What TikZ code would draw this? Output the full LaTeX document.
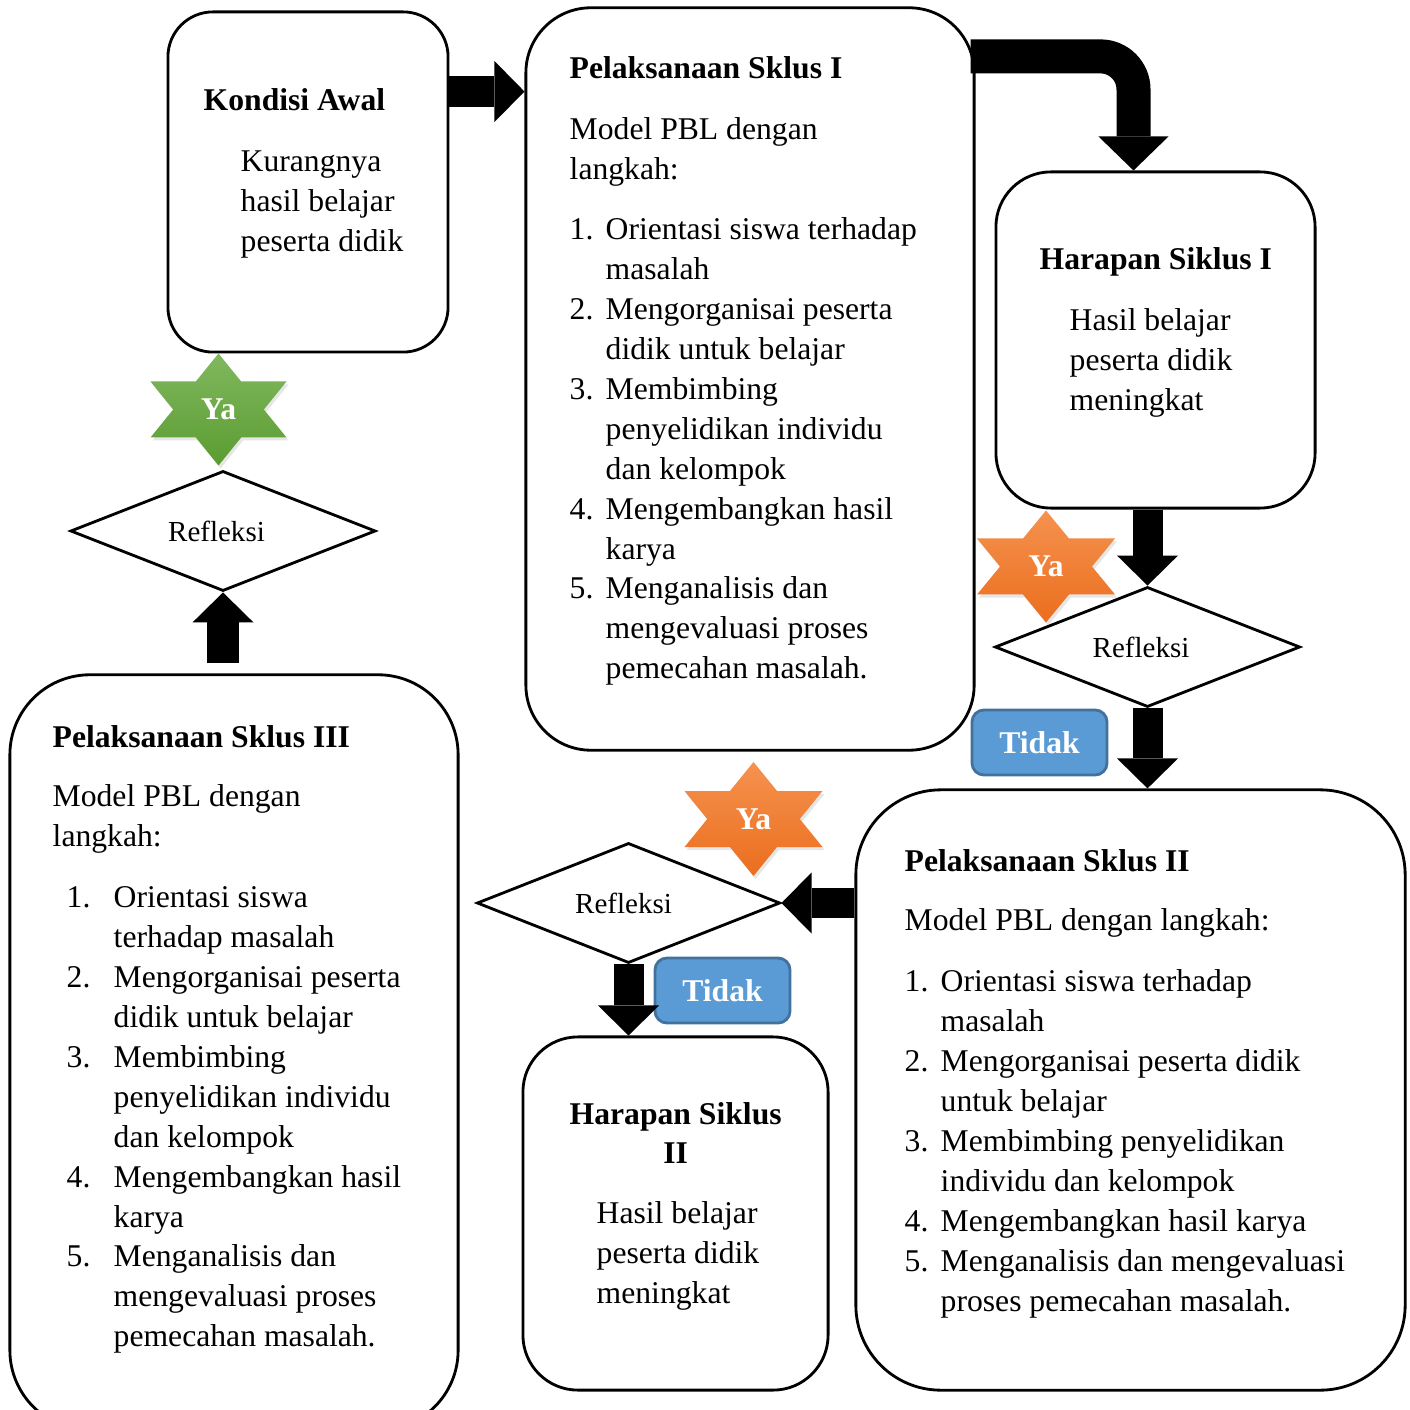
\documentclass[tikz,border=0pt]{standalone}
\usepackage{fontspec}
\setmainfont{Liberation Serif}
\usetikzlibrary{arrows.meta,shapes.geometric,shadows}

\definecolor{yagreentop}{HTML}{80B85F}
\definecolor{yagreenbot}{HTML}{5B9C31}
\definecolor{yaorangetop}{HTML}{F5924F}
\definecolor{yaorangebot}{HTML}{EB6E1E}
\definecolor{tidakblue}{HTML}{5B9BD5}
\definecolor{tidakedge}{HTML}{41719C}

\begin{document}
\begin{tikzpicture}[
    x=0.01cm, y=-0.01cm,
    box/.style={draw, line width=0.8pt, rounded corners=#1, inner sep=0pt},
    refl/.style={draw, diamond, aspect=2.55, line width=0.8pt, minimum width=3.05cm, minimum height=1.2cm, inner sep=1pt, font=\fontsize{8.25}{10}\selectfont},
    tidak/.style={draw=tidakedge, fill=tidakblue, line width=0.8pt, rounded corners=0.12cm, minimum width=1.35cm, minimum height=0.65cm, text=white, font=\fontsize{9}{11}\selectfont\bfseries},
    ya/.style={text=white, inner sep=0pt, font=\fontsize{9}{10}\selectfont\bfseries},
    starshade/.style={drop shadow={opacity=0.2, shadow xshift=0.02cm, shadow yshift=-0.03cm}},
    txt/.style={anchor=base west, inner sep=0pt, font=\fontsize{9}{11.35}\selectfont},
    blk/.style={line width=0.30cm, -{Triangle[length=0.30cm, width=0.61cm, line width=0pt]}},
    blkbig/.style={line width=0.34cm, rounded corners=0.33cm, -{Triangle[length=0.34cm, width=0.70cm, line width=0pt]}}
]
\useasboundingbox (0,0) rectangle (1409,1410);

% --- Boxes ---
\node[box=0.45cm, minimum width=2.80cm, minimum height=3.40cm] (ka) at (308,182) {};
\node[box=0.65cm, minimum width=4.48cm, minimum height=7.42cm] (p1) at (750,379) {};
\node[box=0.55cm, minimum width=3.19cm, minimum height=3.36cm] (h1) at (1155.5,340) {};
\node[box=0.85cm, minimum width=5.49cm, minimum height=6.00cm] (p2) at (1130.5,1090) {};
\node[box=0.55cm, minimum width=3.05cm, minimum height=3.53cm] (h2) at (675.5,1213.5) {};
\node[box=0.80cm, minimum width=4.48cm, minimum height=7.55cm] (p3) at (234,1052.5) {};

% --- Kondisi Awal ---
\node[txt] (ka-txt) at (203,111) {\begin{tabular}[t]{@{}l@{}}
\textbf{Kondisi Awal}\\[0.21cm]
\hspace*{0.37cm}Kurangnya\\
\hspace*{0.37cm}hasil belajar\\
\hspace*{0.37cm}peserta didik
\end{tabular}};

% --- Pelaksanaan Sklus I ---
\node[txt] (p1-txt) at (569,79) {\begin{tabular}[t]{@{}p{0.36cm}@{}l@{}}
\multicolumn{2}{@{}l@{}}{\textbf{Pelaksanaan Sklus I}}\\[0.21cm]
\multicolumn{2}{@{}l@{}}{Model PBL dengan}\\
\multicolumn{2}{@{}l@{}}{langkah:}\\[0.2cm]
1. & Orientasi siswa terhadap\\
   & masalah\\
2. & Mengorganisai peserta\\
   & didik untuk belajar\\
3. & Membimbing\\
   & penyelidikan individu\\
   & dan kelompok\\
4. & Mengembangkan hasil\\
   & karya\\
5. & Menganalisis dan\\
   & mengevaluasi proses\\
   & pemecahan masalah.
\end{tabular}};

% --- Harapan Siklus I ---
\node[txt] (h1-txt) at (1039,270) {\begin{tabular}[t]{@{}l@{}}
\textbf{Harapan Siklus I}\\[0.21cm]
\hspace*{0.30cm}Hasil belajar\\
\hspace*{0.30cm}peserta didik\\
\hspace*{0.30cm}meningkat
\end{tabular}};

% --- Pelaksanaan Sklus II ---
\node[txt] (p2-txt) at (904,871) {\begin{tabular}[t]{@{}p{0.36cm}@{}l@{}}
\multicolumn{2}{@{}l@{}}{\textbf{Pelaksanaan Sklus II}}\\[0.2cm]
\multicolumn{2}{@{}l@{}}{Model PBL dengan langkah:}\\[0.21cm]
1. & Orientasi siswa terhadap\\
   & masalah\\
2. & Mengorganisai peserta didik\\
   & untuk belajar\\
3. & Membimbing penyelidikan\\
   & individu dan kelompok\\
4. & Mengembangkan hasil karya\\
5. & Menganalisis dan mengevaluasi\\
   & proses pemecahan masalah.
\end{tabular}};

% --- Harapan Siklus II ---
\node[txt] (h2-txt) at (569,1124) {\begin{tabular}[t]{@{}c@{}}
\textbf{Harapan Siklus}\\
\textbf{II}\\[0.2cm]
\multicolumn{1}{@{\hspace{0.27cm}}l@{}}{Hasil belajar}\\
\multicolumn{1}{@{\hspace{0.27cm}}l@{}}{peserta didik}\\
\multicolumn{1}{@{\hspace{0.27cm}}l@{}}{meningkat}
\end{tabular}};

% --- Pelaksanaan Sklus III ---
\node[txt] (p3-txt) at (52,747) {\begin{tabular}[t]{@{\hspace{0.14cm}}p{0.47cm}@{}l@{}}
\multicolumn{2}{@{}l@{}}{\textbf{Pelaksanaan Sklus III}}\\[0.2cm]
\multicolumn{2}{@{}l@{}}{Model PBL dengan}\\
\multicolumn{2}{@{}l@{}}{langkah:}\\[0.21cm]
1. & Orientasi siswa\\
   & terhadap masalah\\
2. & Mengorganisai peserta\\
   & didik untuk belajar\\
3. & Membimbing\\
   & penyelidikan individu\\
   & dan kelompok\\
4. & Mengembangkan hasil\\
   & karya\\
5. & Menganalisis dan\\
   & mengevaluasi proses\\
   & pemecahan masalah.
\end{tabular}};

% --- Refleksi + Tidak ---
\node[refl] (d1) at (223,531) {Refleksi\rule{0.13cm}{0pt}};
\node[refl] (d2) at (1147.5,647) {Refleksi\rule{0.13cm}{0pt}};
\node[refl, minimum width=3.03cm] (d3) at (628.5,903) {Refleksi\rule{0.10cm}{0pt}};
\node[tidak] (t1) at (1039.5,742.5) {Tidak};
\node[tidak] (t2) at (722.5,990.5) {Tidak};

% --- Block arrows ---
\coordinate (a1s) at ([yshift=-0.81cm]ka.north east);
\coordinate (a2s) at ([xshift=-0.05cm, yshift=-0.50cm]p1.north east);
\draw[blk, line width=0.31cm] (a1s) -- (a1s -| p1.west);
\draw[blkbig] (a2s) -| ([xshift=-0.22cm]h1.north);
\draw[blk] (h1.south -| d2.north) -- (d2.north);
\draw[blk] (d2.south) -- (d2.south |- p2.north);
\draw[blk] (d3.east -| p2.west) -- (d3.east);
\draw[blk] (d3.south) -- (d3.south |- h2.north);
\draw[blk, line width=0.31cm] ([yshift=0.1cm]d1.south |- p3.north) -- (d1.south);

% --- Ya stars ---
\coordinate (s1) at (218.5,409.5);
\coordinate (s2) at (1046,566.5);
\coordinate (s3) at (753.5,819);
\shade[starshade, top color=yagreentop, bottom color=yagreenbot]
  (s1) +(0,-56) -- +(68,28) -- +(-68,28) -- cycle (s1) +(0,56) -- +(-68,-28) -- +(68,-28) -- cycle;
\shade[starshade, top color=yaorangetop, bottom color=yaorangebot]
  (s2) +(0,-56) -- +(69,28) -- +(-69,28) -- cycle (s2) +(0,56) -- +(-69,-28) -- +(69,-28) -- cycle;
\shade[starshade, top color=yaorangetop, bottom color=yaorangebot]
  (s3) +(0,-57) -- +(69,28) -- +(-69,28) -- cycle (s3) +(0,57) -- +(-69,-28) -- +(69,-28) -- cycle;
\node[ya] (ya1) at (s1) {Ya};
\node[ya] (ya2) at (s2) {Ya};
\node[ya] (ya3) at (s3) {Ya};
\end{tikzpicture}
\end{document}
